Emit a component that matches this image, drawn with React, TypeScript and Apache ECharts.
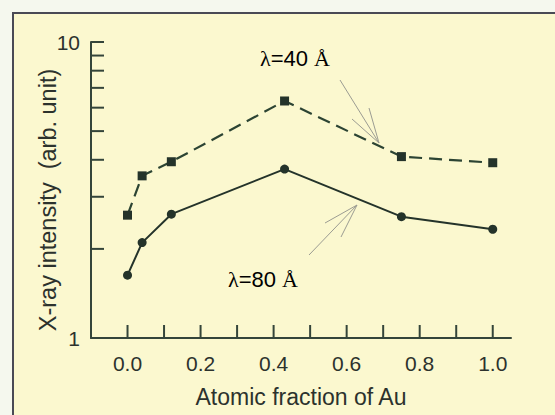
import React, { useEffect, useRef } from "react";
import * as echarts from "echarts";

const fractions = [0, 0.04, 0.12, 0.43, 0.75, 1.0];
const lambda40 = [2.6, 3.53, 3.94, 6.32, 4.1, 3.91];
const lambda80 = [1.63, 2.1, 2.62, 3.72, 2.57, 2.33];
const xTickValues = [0, 0.1, 0.2, 0.3, 0.4, 0.5, 0.6, 0.7, 0.8, 0.9, 1.0];
const yMinorTickValues = [2, 3, 4, 5, 6, 7, 8, 9];
const xLabelValues = [0, 0.2, 0.4, 0.6, 0.8, 1.0];

const AXIS = "#34453a";
const LINE = "#24332a";
const ARROW = "#9b9c92";
const TEXT = "#2c322d";

export default function App() {
  const ref = useRef<HTMLDivElement>(null);
  useEffect(() => {
    if (!ref.current) return;
    const chart = echarts.init(ref.current, null, { renderer: "svg" });
    const arrow = (x1: number, y1: number, x2: number, y2: number, h1: number[], h2: number[]) => [
      { type: "line", z: 100, shape: { x1, y1, x2, y2 }, style: { stroke: ARROW, lineWidth: 1 } },
      { type: "line", z: 100, shape: { x1: h1[0], y1: h1[1], x2, y2 }, style: { stroke: ARROW, lineWidth: 1 } },
      { type: "line", z: 100, shape: { x1: h2[0], y1: h2[1], x2, y2 }, style: { stroke: ARROW, lineWidth: 1 } },
    ];
    const rich = {
      l: { fontFamily: "Liberation Serif", fontSize: 22, color: TEXT },
      s: { fontFamily: "Liberation Sans", fontSize: 22, color: TEXT },
      a: { fontFamily: "Liberation Serif", fontSize: 22, color: TEXT },
    };
    chart.setOption({
      animation: false,
      backgroundColor: "#f5f8ee",
      grid: { left: 91, right: 44, top: 42, bottom: 77 },
      xAxis: {
        type: "value",
        min: -0.1,
        max: 1.05,
        interval: 0.1,
        name: "Atomic fraction of Au",
        nameLocation: "middle",
        nameGap: 47,
        nameMoveOverlap: false,
        nameTextStyle: { fontFamily: "Liberation Sans", fontSize: 23, color: TEXT },
        axisLine: { show: true, onZero: false, lineStyle: { color: AXIS, width: 2 } },
        axisTick: { show: false },
        splitLine: { show: false },
        axisLabel: {
          margin: 15,
          fontFamily: "Liberation Sans",
          fontSize: 21,
          color: TEXT,
          formatter: (v: number) => {
            const k = Math.round(v * 10);
            return xLabelValues.some((x) => Math.round(x * 10) === k) && Math.abs(v * 10 - k) < 1e-6 ? v.toFixed(1) : "";
          },
        },
      },
      yAxis: {
        type: "log",
        logBase: 10,
        min: 1,
        max: 10,
        name: "X-ray intensity  (arb. unit)",
        nameLocation: "middle",
        nameGap: 31,
        nameMoveOverlap: false,
        nameTextStyle: { fontFamily: "Liberation Sans", fontSize: 23.5, color: TEXT, padding: [0, 0, 0, -20] },
        axisLine: { show: true, onZero: false, lineStyle: { color: AXIS, width: 2 } },
        axisTick: { show: true, inside: true, length: 13, lineStyle: { color: AXIS, width: 2 } },
        splitLine: { show: false },
        minorTick: { show: false },
        axisLabel: { margin: 11, fontFamily: "Liberation Sans", fontSize: 21, color: TEXT },
      },
      series: [
        {
          name: "λ=40 Å",
          type: "line",
          data: fractions.map((x, i) => [x, lambda40[i]]),
          symbol: "rect",
          symbolSize: 9,
          itemStyle: { color: LINE },
          lineStyle: { color: "#2c4433", width: 2.2, type: [13, 7] },
          z: 5,
        },
        {
          name: "λ=80 Å",
          type: "line",
          data: fractions.map((x, i) => [x, lambda80[i]]),
          symbol: "circle",
          symbolSize: 9,
          itemStyle: { color: LINE },
          lineStyle: { color: LINE, width: 2 },
          z: 5,
        },
        {
          type: "custom",
          silent: true,
          data: xTickValues.map((v) => [v, 1]),
          encode: { x: 0, y: 1 },
          renderItem: (_p: any, api: any) => {
            const pt = api.coord([api.value(0), api.value(1)]);
            return {
              type: "line",
              shape: { x1: pt[0], y1: pt[1], x2: pt[0], y2: pt[1] - 13 },
              style: { stroke: AXIS, lineWidth: 2 },
            };
          },
        },
        {
          type: "custom",
          silent: true,
          data: yMinorTickValues.map((v) => [-0.1, v]),
          encode: { x: 0, y: 1 },
          renderItem: (_p: any, api: any) => {
            const pt = api.coord([api.value(0), api.value(1)]);
            return {
              type: "line",
              shape: { x1: pt[0], y1: pt[1], x2: pt[0] + 13, y2: pt[1] },
              style: { stroke: AXIS, lineWidth: 2 },
            };
          },
        },
      ],
      graphic: {
        elements: [
          {
            type: "rect",
            z: -100,
            shape: { x: 13, y: 13, width: 700, height: 600 },
            style: { fill: "#fbf8cf", stroke: "#4a4a55", lineWidth: 2 },
          },
          {
            type: "text",
            z: 100,
            style: { x: 260, y: 58, text: "{l|λ}{s|=40 }{a|Å}", rich, verticalAlign: "middle", align: "left" },
          },
          {
            type: "text",
            z: 100,
            style: { x: 228, y: 279, text: "{l|λ}{s|=80 }{a|Å}", rich, verticalAlign: "middle", align: "left" },
          },
          ...arrow(340, 80, 379, 143, [352, 119], [369, 108]),
          ...arrow(309, 255, 357, 205, [325, 223], [341, 237]),
        ],
      },
    });
    return () => chart.dispose();
  }, []);
  return <div ref={ref} style={{ position: "absolute", left: 0, top: 0, width: 555, height: 415 }} />;
}
